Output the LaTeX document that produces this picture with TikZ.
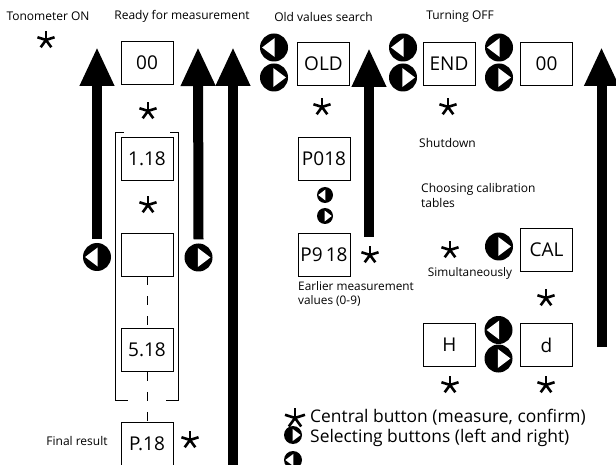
\documentclass[tikz,border=0pt]{standalone}
\usepackage{fontspec}
\setmainfont{Open Sans}
\usetikzlibrary{arrows.meta}
\begin{document}
\begin{tikzpicture}[x=1pt,y=-1pt,
  disp/.style={draw, line width=0.9pt, minimum width=52pt, minimum height=43pt, inner sep=0pt, font=\fontsize{19}{19}\selectfont},
  lbl/.style={inner sep=0pt, font=\fontsize{12}{15}\selectfont},
  small/.style={inner sep=0pt, font=\fontsize{11.8}{14}\selectfont},
  legend/.style={inner sep=0pt, font=\fontsize{17.4}{20}\selectfont, anchor=west},
  asterisk/.style={rectangle, minimum size=26pt, inner sep=0pt, path picture={
      \foreach \a in {90,18,162,234,306}{\draw[line width=2.6pt] (path picture bounding box.center) -- ++(\a:#1);}}},
  asterisk/.default=9pt,
  lbtn/.style={circle, fill=black, minimum size=2*#1, inner sep=0pt, path picture={
      \fill[white] (path picture bounding box.center) ++(-0.85*#1,0pt) -- ++(0.9*#1,0.68*#1) -- ++(0pt,-1.36*#1) -- cycle;}},
  lbtn/.default=14pt,
  rbtn/.style={circle, fill=black, minimum size=2*#1, inner sep=0pt, path picture={
      \fill[white] (path picture bounding box.center) ++(0.85*#1,0pt) -- ++(-0.9*#1,0.68*#1) -- ++(0pt,-1.36*#1) -- cycle;}},
  rbtn/.default=14pt,
  bigarrow/.style={line width=10pt, -{Triangle[length=39pt,width=32pt]}},
  bracket/.style={line width=0.8pt},
  dashline/.style={line width=0.9pt, dash pattern=on 9pt off 11pt}
]
\useasboundingbox (0,0) rectangle (616,465);

% labels
\node[lbl] (ltono) at (48,16) {Tonometer ON};
\node[lbl] (lready) at (182,16) {Ready for measurement};
\node[lbl] (lold) at (323.5,17) {Old values search};
\node[lbl] (loff) at (460,17) {Turning OFF};
\node[lbl, anchor=west] (lshut) at (419,143) {Shutdown};
\node[lbl, anchor=west, align=left] (lcal) at (421,195.5) {Choosing calibration\\tables};
\node[small] (lsim) at (470,273) {Simultaneously};
\node[small, anchor=west, align=left] (learl) at (298,294) {Earlier measurement\\values (0-9)};
\node[lbl] (lfinal) at (77,441) {Final result};

% displays
\node[disp] (d00a) at (147,63) {00};
\node[disp] (d118) at (147,158.5) {1.18};
\node[disp] (dempty) at (147,254.5) {};
\node[disp] (d518) at (147,350) {5.18};
\node[disp] (dp18) at (147,443.5) {P.18};
\node[disp] (dold) at (323.5,63.5) {OLD};
\node[disp] (dp018) at (324,158.5) {P018};
\node[disp] (dp918) at (324,255) {P9\,18};
\node[disp] (dend) at (449,63.5) {END};
\node[disp] (d00b) at (546.5,63.5) {00};
\node[disp] (dcal) at (546.5,250) {CAL};
\node[disp] (dh) at (449.5,345) {H};
\node[disp] (dd) at (546.5,345) {d};

% bracket
\draw[bracket] (124,132) -- (115,132) -- (115,400) -- (128,400);
\draw[bracket] (170,132) -- (178,132) -- (178,400) -- (166,400);

% dashed links
\draw[dashline] (dempty.south) -- (d518.north);
\draw[dashline] (d518.south) -- (dp18.north);

% buttons
\node[lbtn] (b1) at (97,257) {};
\node[rbtn] (b2) at (198.5,257.5) {};
\node[lbtn] (bo1) at (274,47.5) {};
\node[rbtn] (bo2) at (274,77.5) {};
\node[lbtn=8pt] (bp1) at (325,195) {};
\node[rbtn=8pt] (bp2) at (325,216) {};
\node[lbtn] (be1) at (403,47.5) {};
\node[rbtn] (be2) at (403,77.5) {};
\node[lbtn] (bz1) at (499,47.5) {};
\node[rbtn] (bz2) at (499,77.5) {};
\node[rbtn] (bc) at (499,246.5) {};
\node[lbtn] (bh1) at (498.5,330) {};
\node[rbtn] (bh2) at (498.5,358.5) {};
\node[rbtn=9pt] (bleg1) at (293,435) {};
\node[lbtn=9pt] (bleg2) at (293,460) {};

% stars
\node[asterisk] (s1) at (46,40) {};
\node[asterisk] (s2) at (148,111) {};
\node[asterisk] (s3) at (148,205) {};
\node[asterisk] (s4) at (190,440) {};
\node[asterisk] (s5) at (322,107) {};
\node[asterisk] (s6) at (370,255) {};
\node[asterisk] (s7) at (448,107) {};
\node[asterisk] (s8) at (450,250) {};
\node[asterisk] (s9) at (546,298) {};
\node[asterisk] (s10) at (450,385) {};
\node[asterisk] (s11) at (546,385) {};
\node[asterisk=10.5pt] (s12) at (295,418) {};

% legend
\node[legend] (leg1) at (310,417) {Central button (measure, confirm)};
\node[legend] (leg2) at (310,438) {Selecting buttons (left and right)};

% arrows
\coordinate (t1) at (97,47);
\coordinate (t2) at (198,47);
\coordinate (t3) at (233,47);
\coordinate (b3) at (233,470);
\coordinate (t4) at (369,48);
\coordinate (b4) at (369,237);
\coordinate (t5) at (601.5,47);
\coordinate (b5) at (601.5,347);
\draw[bigarrow] ([yshift=4pt]b1.north) -- (t1);
\draw[bigarrow] ([yshift=4pt]b2.north) -- (t2);
\draw[bigarrow] (b3) -- (t3);
\draw[bigarrow] (b4) -- (t4);
\draw[bigarrow] (b5) -- (t5);
\end{tikzpicture}
\end{document}
